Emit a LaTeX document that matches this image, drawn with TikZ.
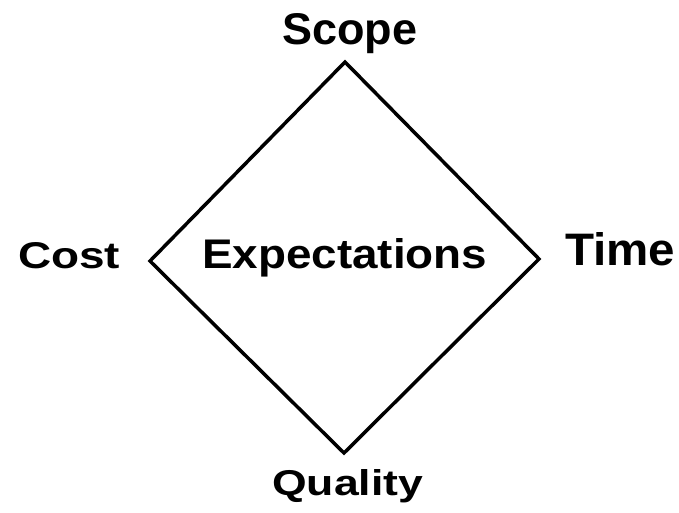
\documentclass[tikz,border=0pt]{standalone}
\usepackage{fontspec}
\setmainfont{Liberation Sans}
\tikzset{
  lbl/.style={inner sep=0pt, anchor=base west, font=\bfseries},
  edge/.style={draw=black, line width=3.5pt, line join=miter}
}
\begin{document}
\begin{tikzpicture}[x=1pt,y=-1pt]
\useasboundingbox (0,0) rectangle (679,512);
\coordinate (T) at (345,62);
\coordinate (R) at (539,259);
\coordinate (B) at (344,453);
\coordinate (L) at (150,261);
\draw[edge] (T) -- (R) -- (B) -- (L) -- cycle;
\node[lbl] (scope) at (282,44) {\resizebox{135pt}{31pt}{Scope}};
\node[lbl] (exp) at (202,268) {\resizebox{285pt}{30pt}{Expectations}};
\node[lbl] (cost) at (18,268) {\resizebox{102pt}{26pt}{Cost}};
\node[lbl] (time) at (565,265) {\resizebox{110pt}{33pt}{Time}};
\node[lbl] (quality) at (272,495) {\resizebox{151pt}{26pt}{Quality}};
\end{tikzpicture}
\end{document}
